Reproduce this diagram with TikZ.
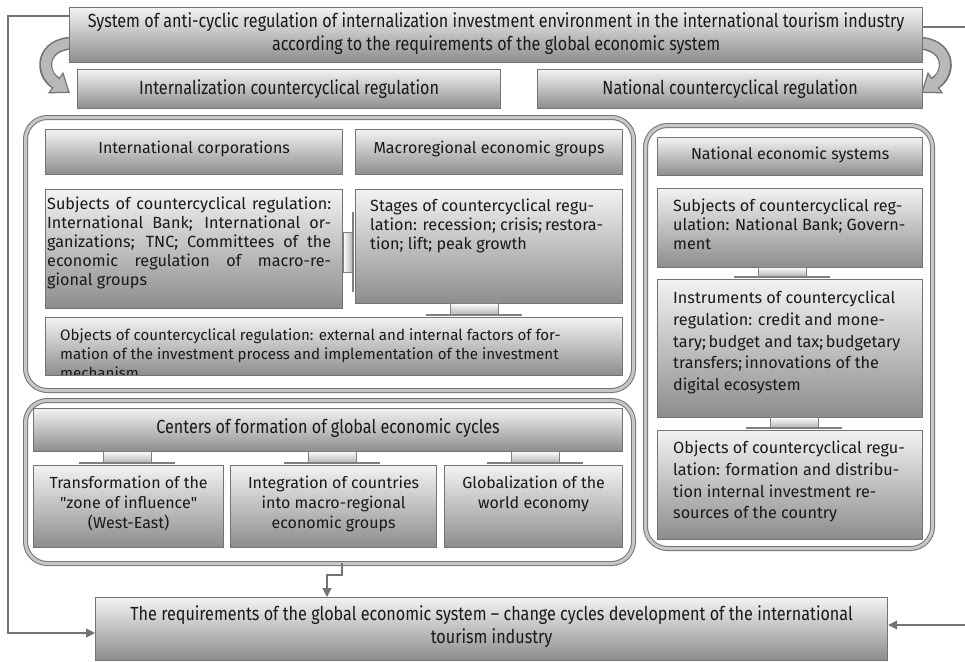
\documentclass[tikz,border=0pt]{standalone}
\usepackage{fontspec}
\setmainfont{Fira Sans}
\newfontfamily\condfont[FakeStretch=0.85]{Fira Sans}
\usetikzlibrary{arrows.meta,calc}
\tikzset{
  shbox/.style={draw=black!55, line width=1.2pt, top color=black!5, bottom color=black!45, anchor=north west, inner sep=0pt},
  grp/.style={draw=black!55, line width=1pt, double=black!22, double distance=3pt, fill=white, rounded corners=22pt, anchor=north west, inner sep=0pt},
  ctxt/.style={font=\condfont\fontsize{19}{23}\selectfont, align=center, inner sep=0pt, text=black!90},
  htxt/.style={font=\fontsize{16}{20}\selectfont, align=center, inner sep=0pt, text=black!90},
  rtxt/.style={font=\fontsize{16.2}{19}\selectfont, inner sep=0pt, text=black!90},
  rtxtw/.style={font=\fontsize{16.2}{21.7}\selectfont, inner sep=0pt, text=black!90},
  link/.style={draw=black!55, line width=1.3pt},
  linkarrow/.style={-{Triangle[length=9pt,width=9pt]}},
}
\newcommand\vconn[3]{%
  \draw[top color=white, bottom color=black!30, draw=black!50, line width=0.8pt] ({#1-24},#2) rectangle ({#1+24},#3);
  \draw[black!50, line width=2pt] ({#1-48},#3) -- ({#1+48},#3);}
\begin{document}
\begin{tikzpicture}[x=1pt,y=-1pt]
\useasboundingbox (0,0) rectangle (965,661);

% curved block arrows
\draw[line width=13pt, black!55] (75,43) .. controls (40,43) and (40,74) .. (56,83);
\fill[black!28, draw=black!55, line width=1.2pt] (49,92.8) -- (69,92.3) -- (63,73.2) -- cycle;
\draw[line width=10pt, black!28] (75,43) .. controls (40,43) and (40,74) .. (57.6,84.2);
\draw[line width=13pt, black!55] (916,43) .. controls (951,43) and (951,74) .. (935,83);
\fill[black!28, draw=black!55, line width=1.2pt] (942,92.8) -- (922,92.3) -- (928,73.2) -- cycle;
\draw[line width=10pt, black!28] (916,43) .. controls (951,43) and (951,74) .. (933.4,84.2);

% top box
\node[shbox, minimum width=853pt, minimum height=55pt] (topbox) at (69,7) {};
\node[ctxt] (topbox-t) at ([shift={(0,-1)}]topbox.center) {System of anti-cyclic regulation of internalization investment environment in the international tourism industry\\according to the requirements of the global economic system};

% second row
\node[shbox, minimum width=423pt, minimum height=39pt] (intl) at (77,69) {};
\node[ctxt] (intl-t) at (intl.center) {Internalization countercyclical regulation};
\node[shbox, minimum width=385pt, minimum height=39pt] (natl) at (537,69) {};
\node[ctxt] (natl-t) at (natl.center) {National countercyclical regulation};

% group 1
\node[grp, minimum width=608pt, minimum height=273pt] (grp1) at (25,117) {};
\node[shbox, minimum width=297pt, minimum height=45pt] (ic) at (45,129) {};
\node[htxt] (ic-t) at ([shift={(0,-3)}]ic.center) {International corporations};
\node[shbox, minimum width=267pt, minimum height=45pt] (meg) at (355,129) {};
\node[htxt] (meg-t) at ([shift={(0,-3)}]meg.center) {Macroregional economic groups};
\node[shbox, minimum width=297pt, minimum height=119pt] (subj1) at (45,189) {};
\node[rtxt, anchor=north west, text width=284pt, align=justify] (subj1-t) at ([shift={(2,8)}]subj1.north west) {Subjects of countercyclical regulation:\linebreak International Bank; International or-\linebreak ganizations; TNC; Committees of the\linebreak economic regulation of macro-re-\linebreak gional groups};
\node[shbox, minimum width=267pt, minimum height=114pt] (stages) at (355,189) {};
\node[rtxt, anchor=north west, align=left] (stages-t) at ([shift={(15,10)}]stages.north west) {Stages of countercyclical regu-\\lation: recession; crisis;\,restora-\\tion; lift; peak growth};
\node[shbox, minimum width=577pt, minimum height=58pt] (obj1) at (45,317) {};
\begin{scope}
\clip ([shift={(1,1)}]obj1.north west) rectangle ([shift={(-1,-1.5)}]obj1.south east);
\node[rtxt, font=\fontsize{15.1}{19}\selectfont, anchor=north west, align=left] (obj1-t) at ([shift={(15,12)}]obj1.north west) {Objects of countercyclical regulation: external and internal factors of for-\\mation of the investment process and implementation of the investment\\mechanism};
\end{scope}
% connectors group 1
\draw[left color=white, right color=black!30, draw=black!50, line width=0.8pt] (subj1.east |- 0,232) rectangle (353,272);
\draw[black!50, line width=2pt] (353,212) -- (353,292);
\vconn{474}{303}{315}

% group 2
\node[grp, minimum width=608pt, minimum height=163pt] (grp2) at (25,400) {};
\node[shbox, minimum width=589pt, minimum height=43pt] (centers) at (33,408) {};
\node[ctxt] (centers-t) at ([shift={(0,-2)}]centers.center) {Centers of formation of global economic cycles};
\node[shbox, minimum width=190pt, minimum height=82pt] (sub1) at (33,465) {};
\node[htxt, anchor=north] (sub1-t) at ([shift={(0,11)}]sub1.north) {Transformation of the\\\textquotedbl zone of influence\textquotedbl\\(West-East)};
\node[shbox, minimum width=206pt, minimum height=82pt] (sub2) at (230,465) {};
\node[htxt, anchor=north] (sub2-t) at ([shift={(0,11)}]sub2.north) {Integration of countries\\into macro-regional\\economic groups};
\node[shbox, minimum width=178pt, minimum height=82pt] (sub3) at (444,465) {};
\node[htxt, anchor=north] (sub3-t) at ([shift={(0,11)}]sub3.north) {Globalization of the\\world economy};
\vconn{127}{451}{463}
\vconn{332}{451}{463}
\vconn{535}{451}{463}

% group 3
\node[grp, minimum width=287pt, minimum height=423pt] (grp3) at (645,125) {};
\node[shbox, minimum width=265pt, minimum height=38pt] (nes) at (657,137) {};
\node[htxt] (nes-t) at ([shift={(0,-2)}]nes.center) {National economic systems};
\node[shbox, minimum width=265pt, minimum height=79pt] (subj3) at (657,188) {};
\node[rtxt, anchor=north west, align=left] (subj3-t) at ([shift={(16,11)}]subj3.north west) {Subjects of countercyclical reg-\\ulation: National Bank; Govern-\\ment};
\node[shbox, minimum width=265pt, minimum height=138pt] (instr) at (657,279) {};
\node[rtxtw, anchor=north west, align=left] (instr-t) at ([shift={(16,12)}]instr.north west) {Instruments of countercyclical\\regulation: credit and mone-\\tary;\,budget and tax;\,budgetary\\transfers;\,innovations of the\\digital ecosystem};
\node[shbox, minimum width=265pt, minimum height=109pt] (obj3) at (657,430) {};
\node[rtxtw, anchor=north west, align=left] (obj3-t) at ([shift={(16,11)}]obj3.north west) {Objects of countercyclical regu-\\lation: formation and distribu-\\tion internal investment re-\\sources of the country};
\vconn{782}{267}{277}
\vconn{794}{417}{428}

% bottom box
\node[shbox, minimum width=792pt, minimum height=63pt] (req) at (95,597) {};
\node[ctxt] (req-t) at ([shift={(0,-2)}]req.center) {The requirements of the global economic system – change cycles development of the international\\tourism industry};

% connectors
\coordinate (rtop) at (965,27);
\coordinate (rbot) at (965,625);
\draw[link, linkarrow] (topbox.west |- 0,16) -- (8,16) -- (8,633) -- (req.west |- 0,633);
\draw[link] (topbox.east |- 0,27) -- (rtop);
\draw[link, linkarrow] (rbot) -- (req.east |- 0,625);
\draw[link, linkarrow] (342,563) -- (342,575) -- (327,575) -- (req.north -| 327,0);
\end{tikzpicture}
\end{document}
